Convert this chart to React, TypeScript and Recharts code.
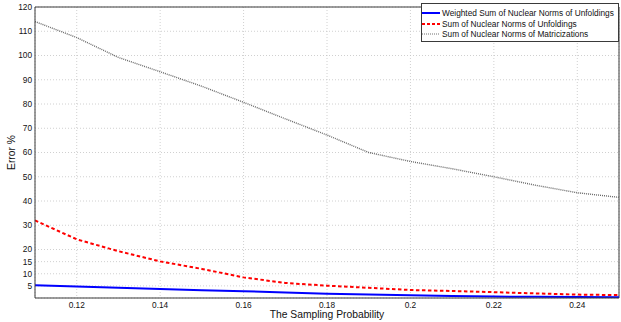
import React from 'react';
import { LineChart, Line, XAxis, YAxis, CartesianGrid, ReferenceLine } from 'recharts';

const probabilities = [0.11, 0.12, 0.13, 0.14, 0.15, 0.16, 0.17, 0.18, 0.19, 0.2, 0.21, 0.22, 0.23, 0.24, 0.25];
const weightedSum = [5.3, 4.7, 4.2, 3.7, 3.2, 2.8, 2.3, 1.8, 1.4, 1.1, 0.8, 0.6, 0.5, 0.4, 0.3];
const sumUnfoldings = [32.0, 24.2, 19.3, 15.1, 12.0, 8.5, 6.2, 5.1, 4.2, 3.3, 2.9, 2.4, 1.9, 1.4, 1.2];
const sumMatricizations = [114.0, 107.4, 99.2, 93.3, 87.3, 80.7, 73.9, 67.2, 60.0, 56.3, 53.3, 50.0, 46.5, 43.4, 41.5];
const xTicks = [0.12, 0.14, 0.16, 0.18, 0.2, 0.22, 0.24];
const yTicks = [5, 10, 15, 20, 30, 40, 50, 60, 70, 80, 90, 100, 110, 120];

const seriesNames = [
  'Weighted Sum of Nuclear Norms of Unfoldings',
  'Sum of Nuclear Norms of Unfoldings',
  'Sum of Nuclear Norms of Matricizations',
];

const data = probabilities.map((p, i) => ({
  p,
  w: weightedSum[i],
  u: sumUnfoldings[i],
  m: sumMatricizations[i],
}));

const FONT = '"Liberation Sans", Arial, Helvetica, sans-serif';
const AXIS = '#3a3a3a';
const X_DOMAIN: [number, number] = [0.11, 0.25];
const Y_DOMAIN: [number, number] = [0, 120];

const legendStyles = [
  { stroke: '#0000ff', width: 2, dash: undefined as string | undefined },
  { stroke: '#ff0000', width: 2, dash: '3 2' },
  { stroke: '#707070', width: 1, dash: '1 1' },
];

const LegendBox = () => (
  <div
    style={{
      position: 'absolute',
      left: 421,
      top: 3,
      boxSizing: 'border-box',
      width: 198,
      height: 39,
      border: `1px solid ${AXIS}`,
      background: '#fff',
      paddingTop: 4,
      fontFamily: FONT,
      fontSize: 8.3,
      color: '#111',
    }}
  >
    {seriesNames.map((name, i) => (
      <div key={name} style={{ height: 10.5, display: 'flex', alignItems: 'center', whiteSpace: 'nowrap' }}>
        <svg width={20} height={6} style={{ flex: 'none' }}>
          <line
            x1={0}
            x2={18}
            y1={3}
            y2={3}
            stroke={legendStyles[i].stroke}
            strokeWidth={legendStyles[i].width}
            strokeDasharray={legendStyles[i].dash}
          />
        </svg>
        <span>{name}</span>
      </div>
    ))}
  </div>
);

export default function App() {
  return (
    <div style={{ position: 'absolute', left: 0, top: 0, width: 621, height: 322, background: '#fff' }}>
      <LineChart width={621} height={322} data={data} margin={{ top: 7, right: 2, bottom: 0, left: 0 }}>
        <CartesianGrid stroke="#c4c4c4" strokeDasharray="1 2" strokeWidth={0.8} />
        <XAxis
          dataKey="p"
          type="number"
          domain={X_DOMAIN}
          allowDataOverflow
          ticks={xTicks}
          tickFormatter={(v: number) => String(+v.toFixed(2))}
          height={24}
          tickLine={false}
          tickSize={0}
          tickMargin={4}
          axisLine={{ stroke: AXIS }}
          tick={{ fontSize: 8.3, fill: '#111', fontFamily: FONT }}
          label={{ value: 'The Sampling Probability', position: 'insideBottom', offset: 4, fontSize: 10.3, fill: '#111', fontFamily: FONT }}
        />
        <XAxis
          xAxisId="xb"
          dataKey="p"
          type="number"
          domain={X_DOMAIN}
          allowDataOverflow
          ticks={xTicks}
          orientation="bottom"
          mirror
          height={0}
          tick={false}
          tickSize={4}
          axisLine={false}
          tickLine={{ stroke: AXIS }}
        />
        <XAxis
          xAxisId="xt"
          dataKey="p"
          type="number"
          domain={X_DOMAIN}
          allowDataOverflow
          ticks={xTicks}
          orientation="top"
          mirror
          height={0}
          tick={false}
          tickSize={4}
          axisLine={{ stroke: AXIS }}
          tickLine={{ stroke: AXIS }}
        />
        <YAxis
          type="number"
          domain={Y_DOMAIN}
          allowDataOverflow
          ticks={yTicks}
          interval={0}
          width={35}
          tickLine={false}
          tickSize={0}
          tickMargin={3}
          axisLine={{ stroke: AXIS }}
          tick={{ fontSize: 8.3, fill: '#111', fontFamily: FONT }}
          label={{ value: 'Error %', angle: -90, position: 'center', dx: -6, fontSize: 10.3, fill: '#111', fontFamily: FONT }}
        />
        <YAxis
          yAxisId="yl"
          type="number"
          domain={Y_DOMAIN}
          allowDataOverflow
          ticks={yTicks}
          interval={0}
          orientation="left"
          mirror
          width={0}
          tick={false}
          tickSize={4}
          axisLine={false}
          tickLine={{ stroke: AXIS }}
        />
        <YAxis
          yAxisId="yr"
          type="number"
          domain={Y_DOMAIN}
          allowDataOverflow
          ticks={yTicks}
          interval={0}
          orientation="right"
          mirror
          width={0}
          tick={false}
          tickSize={4}
          axisLine={{ stroke: AXIS }}
          tickLine={{ stroke: AXIS }}
        />
        <ReferenceLine y={120} stroke={AXIS} ifOverflow="extendDomain" />
        <ReferenceLine x={0.25} stroke={AXIS} ifOverflow="extendDomain" />
        <Line dataKey="m" name={seriesNames[2]} stroke="#6a6a6a" strokeWidth={1.4} strokeDasharray="1 1" dot={false} isAnimationActive={false} />
        <Line dataKey="u" name={seriesNames[1]} stroke="#ff0000" strokeWidth={2} strokeDasharray="3.5 2.5" dot={false} isAnimationActive={false} />
        <Line dataKey="w" name={seriesNames[0]} stroke="#0000ff" strokeWidth={2} dot={false} isAnimationActive={false} />
      </LineChart>
      <LegendBox />
    </div>
  );
}
